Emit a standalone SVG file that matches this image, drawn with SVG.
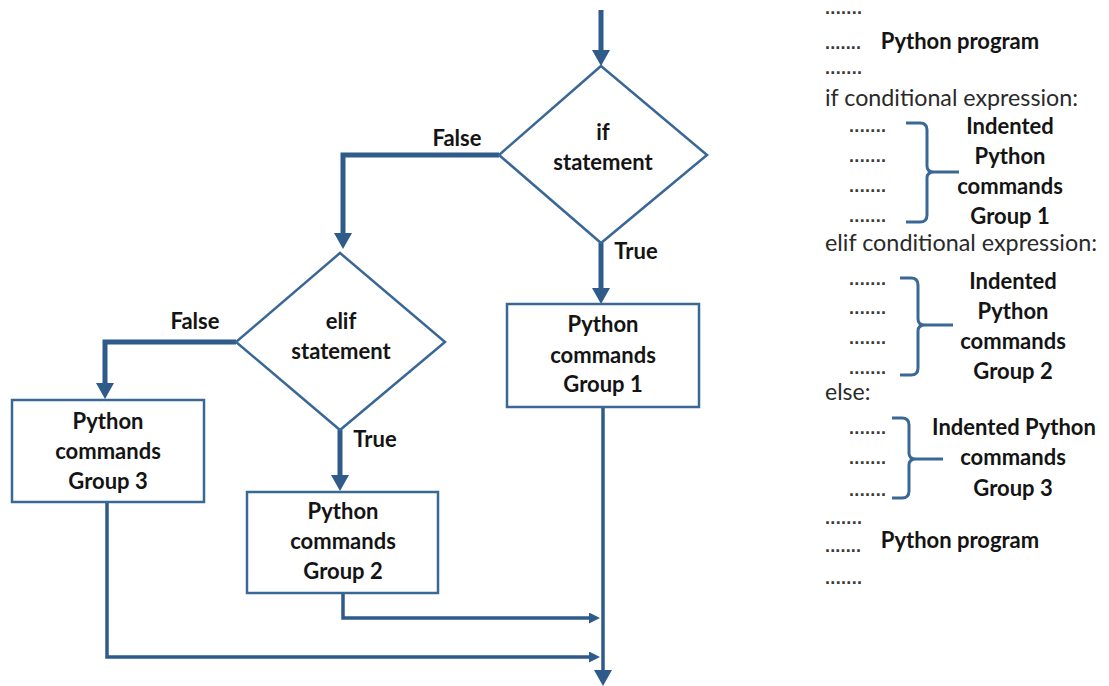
<svg xmlns="http://www.w3.org/2000/svg" width="1109" height="686" viewBox="0 0 1109 686">
<defs>
<style>
.conn{fill:none;stroke:#2E5B8A;stroke-linejoin:miter}
.thick{stroke-width:5}
.thin{stroke-width:3.5}
.shape{fill:#fff;stroke:#3A6896;stroke-width:2.5}
.b{font-family:Lato,"Liberation Sans",sans-serif;font-weight:bold;font-size:22px;fill:#141414;text-anchor:middle}
.r{font-family:Lato,"Liberation Sans",sans-serif;font-size:23px;fill:#2a2a2a}
.dots{font-family:"Liberation Sans",sans-serif;font-size:18px;font-weight:bold;fill:#3a3a3a}
.brace{fill:none;stroke:#3A6896;stroke-width:3}
</style>
<marker id="big" viewBox="0 0 16 18" refX="2" refY="9" markerWidth="16" markerHeight="18" markerUnits="userSpaceOnUse" orient="auto">
<path d="M0,0 L16,9 L0,18 z" fill="#2E5B8A"/>
</marker>
<marker id="small" viewBox="0 0 11 11" refX="1" refY="5.5" markerWidth="11" markerHeight="11" markerUnits="userSpaceOnUse" orient="auto">
<path d="M0,0 L11,5.5 L0,11 z" fill="#2E5B8A"/>
</marker>
</defs>
<rect width="1109" height="686" fill="#fff"/>

<g id="connectors">
<path class="conn thick" d="M601,10 V52" marker-end="url(#big)"/>
<path class="conn thick" d="M499,155 H343 V235" marker-end="url(#big)"/>
<path class="conn thick" d="M601,243 V290" marker-end="url(#big)"/>
<path class="conn thick" d="M236,342 H105 V385" marker-end="url(#big)"/>
<path class="conn thick" d="M340,430 V477" marker-end="url(#big)"/>
<path class="conn thin" d="M603,407 V672" marker-end="url(#big)"/>
<path class="conn thin" d="M343,593 V618 H590" marker-end="url(#small)"/>
<path class="conn thin" d="M107,502 V657 H590" marker-end="url(#small)"/>
<text class="b" x="457" y="146">False</text>
<text class="b" x="636" y="259">True</text>
<text class="b" x="195" y="329">False</text>
<text class="b" x="375" y="447">True</text>
</g>

<g id="if-statement">
<polygon class="shape" points="601,66 707,155 601,243 499,155"/>
<text class="b" x="603" y="140">if</text>
<text class="b" x="603" y="170">statement</text>
</g>

<g id="elif-statement">
<polygon class="shape" points="340,253 445,342 340,430 236,342"/>
<text class="b" x="341" y="329">elif</text>
<text class="b" x="341" y="359">statement</text>
</g>

<g id="group1">
<rect class="shape" x="507" y="304" width="192" height="103"/>
<text class="b" x="603" y="332">Python</text>
<text class="b" x="603" y="363">commands</text>
<text class="b" x="603" y="392">Group 1</text>
</g>

<g id="group2">
<rect class="shape" x="247" y="492" width="191" height="101"/>
<text class="b" x="343" y="519">Python</text>
<text class="b" x="343" y="549">commands</text>
<text class="b" x="343" y="579">Group 2</text>
</g>

<g id="group3">
<rect class="shape" x="12" y="400" width="192" height="102"/>
<text class="b" x="108" y="429">Python</text>
<text class="b" x="108" y="459">commands</text>
<text class="b" x="108" y="489">Group 3</text>
</g>

<g id="code">
<text class="dots" x="825" y="14" textLength="37">.......</text>
<text class="dots" x="825" y="49" textLength="36">.......</text>
<text class="b" x="960" y="49">Python program</text>
<text class="dots" x="825" y="74" textLength="37">.......</text>
<text class="r" x="825" y="106" textLength="253" lengthAdjust="spacingAndGlyphs">if conditional expression:</text>

<text class="dots" x="849" y="132" textLength="37">.......</text>
<text class="dots" x="849" y="162" textLength="37">.......</text>
<text class="dots" x="849" y="192" textLength="37">.......</text>
<text class="dots" x="849" y="222" textLength="37">.......</text>
<path class="brace" d="M906,123 H920 Q927,123 927,130 V166 Q927,172 934,172 H959 M934,172 Q927,172 927,178 V215 Q927,222 920,222 H906"/>
<text class="b" x="1010" y="134">Indented</text>
<text class="b" x="1010" y="164">Python</text>
<text class="b" x="1010" y="194">commands</text>
<text class="b" x="1010" y="224">Group 1</text>

<text class="r" x="825" y="251" textLength="272" lengthAdjust="spacingAndGlyphs">elif conditional expression:</text>
<text class="dots" x="849" y="285" textLength="37">.......</text>
<text class="dots" x="849" y="314" textLength="37">.......</text>
<text class="dots" x="849" y="344" textLength="37">.......</text>
<text class="dots" x="849" y="374" textLength="37">.......</text>
<path class="brace" d="M900,278 H911 Q918,278 918,285 V319 Q918,325 925,325 H953 M925,325 Q918,325 918,331 V368 Q918,375 911,375 H900"/>
<text class="b" x="1013" y="289">Indented</text>
<text class="b" x="1013" y="319">Python</text>
<text class="b" x="1013" y="349">commands</text>
<text class="b" x="1013" y="379">Group 2</text>

<text class="r" x="825" y="400">else:</text>
<text class="dots" x="849" y="434" textLength="37">.......</text>
<text class="dots" x="849" y="464" textLength="37">.......</text>
<text class="dots" x="849" y="496" textLength="37">.......</text>
<path class="brace" d="M892,418 H902 Q909,418 909,425 V453 Q909,459 916,459 H943 M916,459 Q909,459 909,465 V491 Q909,498 902,498 H892"/>
<text class="b" x="1014" y="435">Indented Python</text>
<text class="b" x="1013" y="465">commands</text>
<text class="b" x="1013" y="496">Group 3</text>

<text class="dots" x="825" y="524" textLength="37">.......</text>
<text class="dots" x="825" y="552" textLength="36">.......</text>
<text class="b" x="960" y="548">Python program</text>
<text class="dots" x="825" y="584" textLength="37">.......</text>
</g>
</svg>
